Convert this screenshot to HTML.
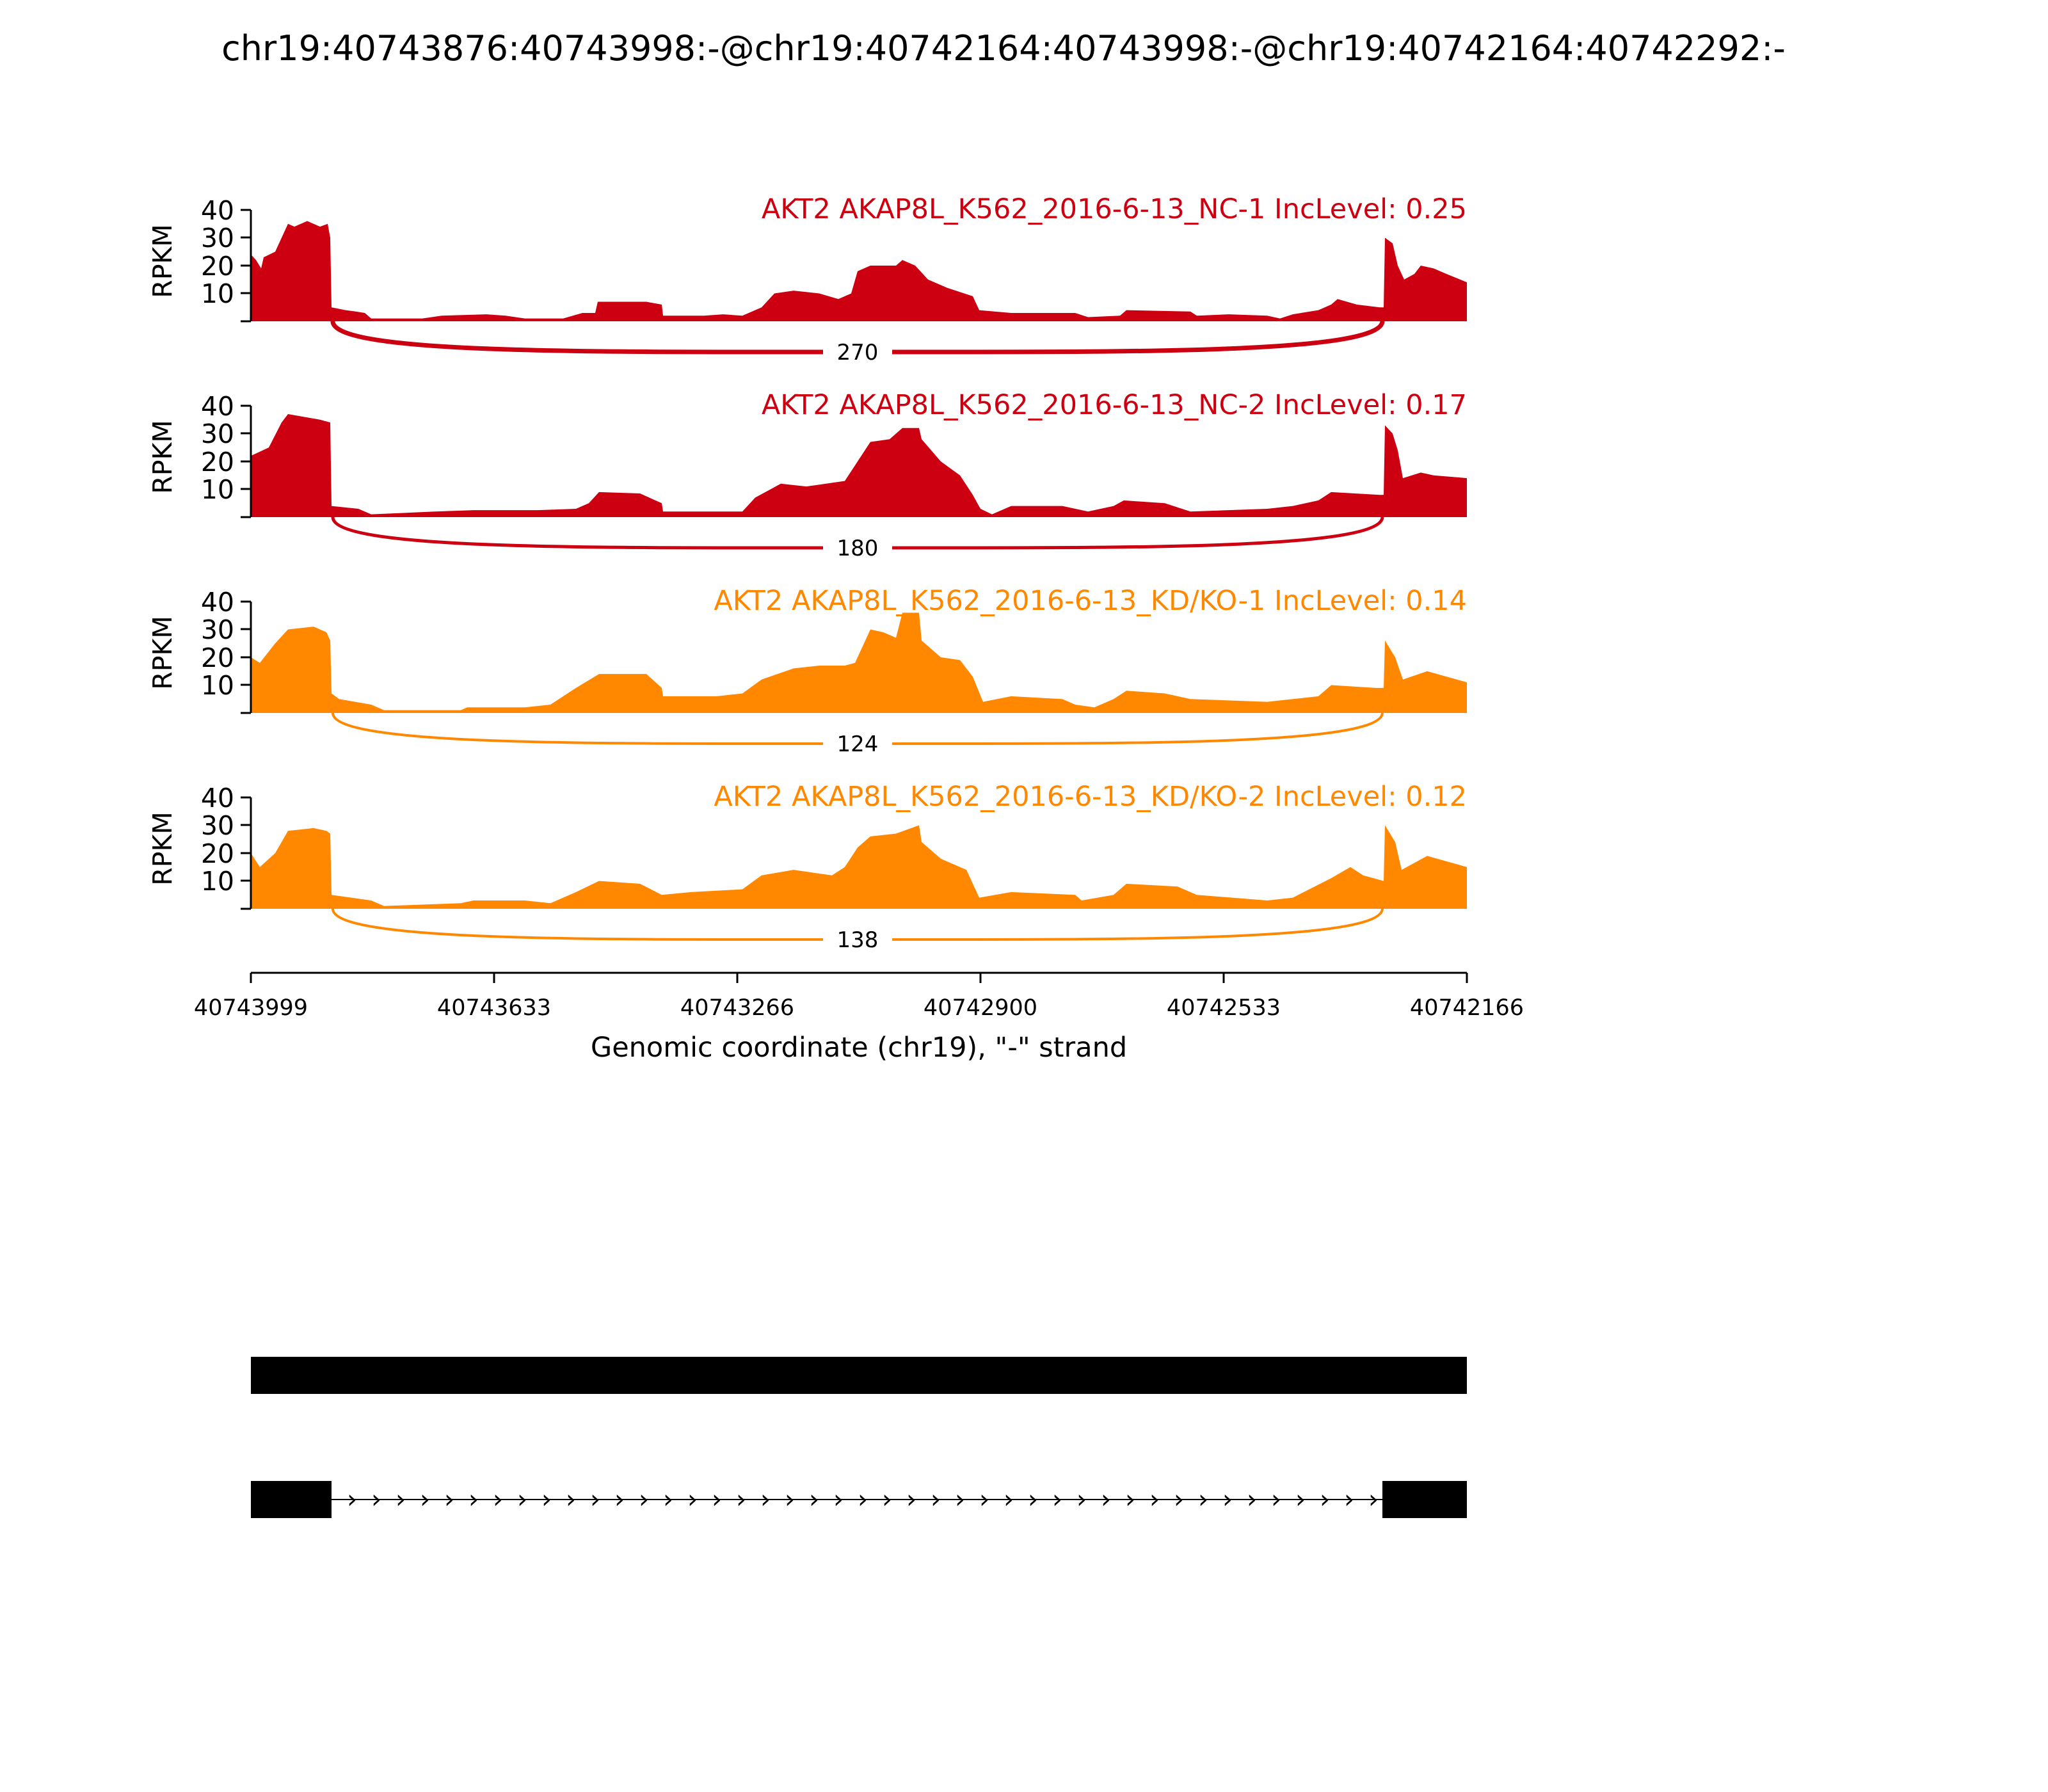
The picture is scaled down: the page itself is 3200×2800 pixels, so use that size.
<!DOCTYPE html>
<html><head><style>body{margin:0;background:#fff}svg{display:block}text{font-family:"DejaVu Sans","Liberation Sans",sans-serif}</style></head>
<body>
<svg width="3200" height="2800" viewBox="0 0 3200 2800" xmlns="http://www.w3.org/2000/svg">
<rect width="3200" height="2800" fill="#fff"/>
<text x="1568" y="94" font-size="54" text-anchor="middle">chr19:40743876:40743998:-@chr19:40742164:40743998:-@chr19:40742164:40742292:-</text>

<g transform="translate(0,502) scale(2,-4.35)">
<polygon fill="#cc0011" points="196,0 196,24 200,22 204,19 206,23 215,25 220,30 225,35 230,34 240,36 250,34 256,35 258,30 259,5 270,4 278,3.5 285,3 290,1 330,1 345,2 380,2.5 395,2 410,1 440,1 455,3 465,3 467,7 505,7 517,6 518,2 550,2 565,2.5 580,2 595,5 605,10 620,11 640,10 655,8 665,10 670,18 680,20 700,20 705,22 715,20 725,15 740,12 760,9 765,4 790,3 840,3 850,1.5 875,2 880,4 930,3.5 935,2 960,2.5 990,2 1000,1 1010,2.5 1030,4 1040,6 1045,8 1060,6 1078,5 1081,5 1082,30 1088,28 1092,20 1097,15 1105,17 1110,20 1120,19 1130,17 1146,14 1146,0"/>
</g>
<g transform="translate(0,808) scale(2,-4.35)">
<polygon fill="#cc0011" points="196,0 196,22 210,25 220,34 225,37 250,35 258,34 259,4 280,3 290,1 340,2 370,2.5 400,2.5 420,2.5 450,3 460,5 468,9 500,8.5 517,5 518,2 550,2 580,2 590,7 610,12 630,11 660,13 670,20 680,27 695,28 705,32 718,32 720,28 735,20 750,15 760,8 766,3 775,1 790,4 830,4 850,2 870,4 878,6 910,5 930,2 990,3 1010,4 1030,6 1040,9 1078,8 1081,8 1082,33 1088,30 1092,24 1096,14 1110,16 1120,15 1146,14 1146,0"/>
</g>
<g transform="translate(0,1114) scale(2,-4.35)">
<polygon fill="#ff8800" points="196,0 196,20 203,18 215,25 225,30 245,31 255,29 258,26 259,7 265,5 290,3 300,1 360,1 365,2 410,2 430,3 450,9 468,14 505,14 517,9 518,6 560,6 580,7 595,12 620,16 640,17 660,17 668,18 672,22 680,30 690,29 700,27 705,36 718,36 720,26 735,20 750,19 760,13 768,4 790,6 830,5 840,3 855,2 870,5 880,8 910,7 930,5 990,4 1010,5 1030,6 1040,10 1075,9 1081,9 1082,26 1090,20 1096,12 1115,15 1146,11 1146,0"/>
</g>
<g transform="translate(0,1420) scale(2,-4.35)">
<polygon fill="#ff8800" points="196,0 196,20 203,15 215,20 225,28 245,29 255,28 258,27 259,5 290,3 300,1 360,2 370,3 410,3 430,2 450,6 468,10 500,9 517,5 540,6 580,7 595,12 620,14 650,12 660,15 670,22 680,26 700,27 718,30 720,24 735,18 755,14 765,4 790,6 840,5 845,3 870,5 880,9 920,8 935,5 990,3 1010,4 1040,11 1055,15 1065,12 1081,10 1082,30 1090,24 1095,14 1115,19 1146,15 1146,0"/>
</g>

<g stroke="#000" stroke-width="3" fill="none">
<path d="M392,502V328 M376,502H392 M376,458H392 M376,415H392 M376,371H392 M376,328H392"/>
<path d="M392,808V634 M376,808H392 M376,764H392 M376,721H392 M376,677H392 M376,634H392"/>
<path d="M392,1114V940 M376,1114H392 M376,1070H392 M376,1027H392 M376,983H392 M376,940H392"/>
<path d="M392,1420V1246 M376,1420H392 M376,1376H392 M376,1333H392 M376,1289H392 M376,1246H392"/>
</g>
<g font-size="41" text-anchor="end">
<text x="366" y="473">10</text><text x="366" y="430">20</text><text x="366" y="386">30</text><text x="366" y="343">40</text>
<text x="366" y="779">10</text><text x="366" y="736">20</text><text x="366" y="692">30</text><text x="366" y="649">40</text>
<text x="366" y="1085">10</text><text x="366" y="1042">20</text><text x="366" y="998">30</text><text x="366" y="955">40</text>
<text x="366" y="1391">10</text><text x="366" y="1348">20</text><text x="366" y="1304">30</text><text x="366" y="1261">40</text>
</g>
<g font-size="41" text-anchor="middle">
<text transform="translate(268,408) rotate(-90)">RPKM</text>
<text transform="translate(268,714) rotate(-90)">RPKM</text>
<text transform="translate(268,1020) rotate(-90)">RPKM</text>
<text transform="translate(268,1326) rotate(-90)">RPKM</text>
</g>
<g font-size="43" text-anchor="end">
<text x="2292" y="341" fill="#cc0011">AKT2 AKAP8L_K562_2016-6-13_NC-1 IncLevel: 0.25</text>
<text x="2292" y="647" fill="#cc0011">AKT2 AKAP8L_K562_2016-6-13_NC-2 IncLevel: 0.17</text>
<text x="2292" y="953" fill="#ff8800">AKT2 AKAP8L_K562_2016-6-13_KD/KO-1 IncLevel: 0.14</text>
<text x="2292" y="1259" fill="#ff8800">AKT2 AKAP8L_K562_2016-6-13_KD/KO-2 IncLevel: 0.12</text>
</g>
<g fill="none">
<path stroke="#cc0011" stroke-width="7" d="M520,502 C520,552 900,550 1286,550 M1394,550 C1780,550 2158,552 2160,502"/>
<path stroke="#cc0011" stroke-width="5" d="M520,808 C520,858 900,856 1286,856 M1394,856 C1780,856 2158,858 2160,808"/>
<path stroke="#ff8800" stroke-width="4" d="M520,1114 C520,1164 900,1162 1286,1162 M1394,1162 C1780,1162 2158,1164 2160,1114"/>
<path stroke="#ff8800" stroke-width="4" d="M520,1420 C520,1470 900,1468 1286,1468 M1394,1468 C1780,1468 2158,1470 2160,1420"/>
</g>
<g font-size="34" text-anchor="middle">
<text x="1340" y="562">270</text><text x="1340" y="868">180</text><text x="1340" y="1174">124</text><text x="1340" y="1480">138</text>
</g>

<g stroke="#000" stroke-width="3" fill="none">
<path d="M392,1520H2292 M392,1520v16 M772,1520v16 M1152,1520v16 M1532,1520v16 M1912,1520v16 M2292,1520v16"/>
</g>
<g font-size="35" text-anchor="middle">
<text x="392" y="1586">40743999</text><text x="772" y="1586">40743633</text><text x="1152" y="1586">40743266</text>
<text x="1532" y="1586">40742900</text><text x="1912" y="1586">40742533</text><text x="2292" y="1586">40742166</text>
</g>
<text x="1342" y="1651" font-size="43" text-anchor="middle">Genomic coordinate (chr19), "-" strand</text>

<rect x="392" y="2120" width="1900" height="58" fill="#000"/>
<rect x="392" y="2314" width="126" height="58" fill="#000"/>
<rect x="2160" y="2314" width="132" height="58" fill="#000"/>
<line x1="518" y1="2343" x2="2160" y2="2343" stroke="#000" stroke-width="2"/>
<g font-size="40" text-anchor="middle">
<text x="550" y="2356">›</text><text x="588" y="2356">›</text><text x="626" y="2356">›</text><text x="664" y="2356">›</text><text x="702" y="2356">›</text><text x="740" y="2356">›</text><text x="778" y="2356">›</text><text x="816" y="2356">›</text><text x="854" y="2356">›</text><text x="892" y="2356">›</text><text x="930" y="2356">›</text><text x="968" y="2356">›</text><text x="1006" y="2356">›</text><text x="1044" y="2356">›</text><text x="1082" y="2356">›</text><text x="1120" y="2356">›</text><text x="1158" y="2356">›</text><text x="1196" y="2356">›</text><text x="1234" y="2356">›</text><text x="1272" y="2356">›</text><text x="1310" y="2356">›</text><text x="1348" y="2356">›</text><text x="1386" y="2356">›</text><text x="1424" y="2356">›</text><text x="1462" y="2356">›</text><text x="1500" y="2356">›</text><text x="1538" y="2356">›</text><text x="1576" y="2356">›</text><text x="1614" y="2356">›</text><text x="1652" y="2356">›</text><text x="1690" y="2356">›</text><text x="1728" y="2356">›</text><text x="1766" y="2356">›</text><text x="1804" y="2356">›</text><text x="1842" y="2356">›</text><text x="1880" y="2356">›</text><text x="1918" y="2356">›</text><text x="1956" y="2356">›</text><text x="1994" y="2356">›</text><text x="2032" y="2356">›</text><text x="2070" y="2356">›</text><text x="2108" y="2356">›</text><text x="2146" y="2356">›</text>
</g>
</svg>
</body></html>
